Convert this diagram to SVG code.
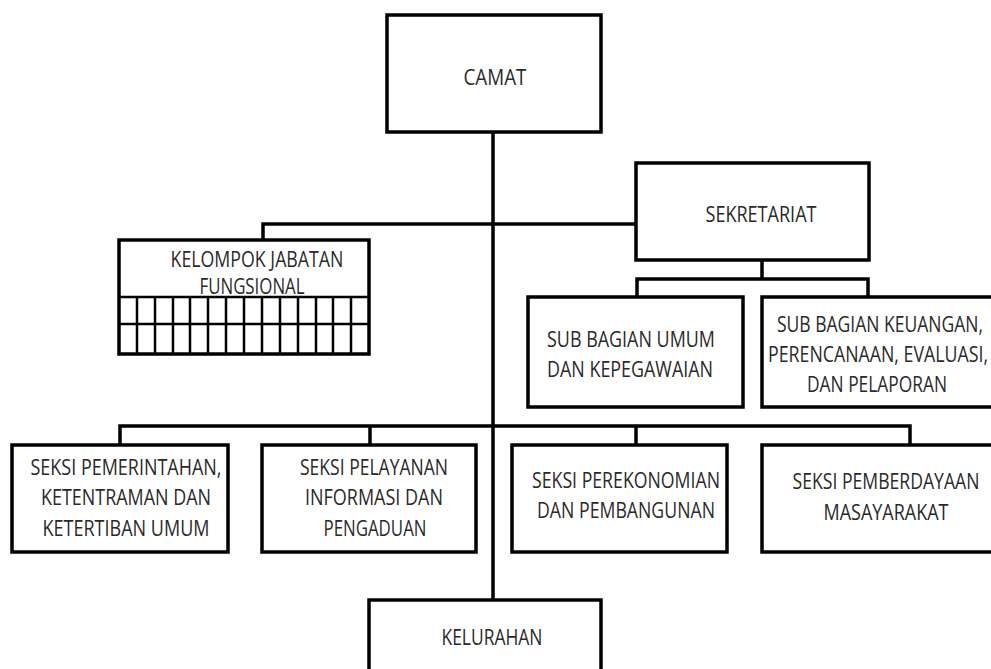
<svg xmlns="http://www.w3.org/2000/svg" width="991" height="669" viewBox="0 0 991 669">
<style>
.box{fill:#fff;stroke:#000;stroke-width:3.5}
.ln{fill:none;stroke:#000;stroke-width:3.5}
.gl{fill:none;stroke:#000;stroke-width:2.5}
text{font-family:"Open Sans","Liberation Sans",sans-serif;font-size:21px;fill:#2a2a2a;text-anchor:middle}
</style>
<rect width="991" height="669" fill="#fff"/>
<g id="connectors">
<path class="ln" d="M493 132V600"/>
<path class="ln" d="M636 224H263V240"/>
<path class="ln" d="M762 260V279M637 297V279H868V297"/>
<path class="ln" d="M120 445V426H910V445M370 426V445M636 426V445"/>
</g>
<g id="camat">
<rect class="box" x="387" y="15" width="214" height="117"/>
<text x="495" y="85" textLength="63" lengthAdjust="spacingAndGlyphs">CAMAT</text>
</g>
<g id="sekretariat">
<rect class="box" x="636" y="163" width="233" height="97"/>
<text x="761" y="222" textLength="111" lengthAdjust="spacingAndGlyphs">SEKRETARIAT</text>
</g>
<g id="kelompok">
<rect class="box" x="119" y="240" width="250" height="114"/>
<path class="gl" d="M119 297H369M119 324H369M137 297V354M155 297V354M173 297V354M190 297V354M208 297V354M226 297V354M244 297V354M262 297V354M280 297V354M298 297V354M316 297V354M333 297V354M351 297V354"/>
<text x="257" y="267" textLength="173" lengthAdjust="spacingAndGlyphs">KELOMPOK JABATAN</text>
<text x="252" y="294" textLength="105" lengthAdjust="spacingAndGlyphs">FUNGSIONAL</text>
</g>
<g id="subumum">
<rect class="box" x="528" y="297" width="215" height="110"/>
<text x="631" y="347" textLength="168" lengthAdjust="spacingAndGlyphs">SUB BAGIAN UMUM</text>
<text x="630" y="377" textLength="166" lengthAdjust="spacingAndGlyphs">DAN KEPEGAWAIAN</text>
</g>
<g id="subkeuangan">
<rect class="box" x="762" y="297" width="232" height="110"/>
<text x="880" y="332" textLength="206" lengthAdjust="spacingAndGlyphs">SUB BAGIAN KEUANGAN,</text>
<text x="878" y="362" textLength="220" lengthAdjust="spacingAndGlyphs">PERENCANAAN, EVALUASI,</text>
<text x="877" y="392" textLength="140" lengthAdjust="spacingAndGlyphs">DAN PELAPORAN</text>
</g>
<g id="pemerintahan">
<rect class="box" x="12" y="445" width="216" height="107"/>
<text x="126" y="475" textLength="191" lengthAdjust="spacingAndGlyphs">SEKSI PEMERINTAHAN,</text>
<text x="126" y="505" textLength="170" lengthAdjust="spacingAndGlyphs">KETENTRAMAN DAN</text>
<text x="126" y="536" textLength="167" lengthAdjust="spacingAndGlyphs">KETERTIBAN UMUM</text>
</g>
<g id="pelayanan">
<rect class="box" x="262" y="445" width="214" height="107"/>
<text x="374" y="475" textLength="148" lengthAdjust="spacingAndGlyphs">SEKSI PELAYANAN</text>
<text x="374" y="505" textLength="138" lengthAdjust="spacingAndGlyphs">INFORMASI DAN</text>
<text x="375" y="536" textLength="103" lengthAdjust="spacingAndGlyphs">PENGADUAN</text>
</g>
<g id="perekonomian">
<rect class="box" x="512" y="445" width="215" height="107"/>
<text x="626" y="488" textLength="188" lengthAdjust="spacingAndGlyphs">SEKSI PEREKONOMIAN</text>
<text x="626" y="518" textLength="178" lengthAdjust="spacingAndGlyphs">DAN PEMBANGUNAN</text>
</g>
<g id="pemberdayaan">
<rect class="box" x="762" y="445" width="232" height="107"/>
<text x="886" y="489" textLength="187" lengthAdjust="spacingAndGlyphs">SEKSI PEMBERDAYAAN</text>
<text x="886" y="520" textLength="125" lengthAdjust="spacingAndGlyphs">MASAYARAKAT</text>
</g>
<g id="kelurahan">
<rect class="box" x="369" y="600" width="232" height="80"/>
<text x="492" y="645" textLength="101" lengthAdjust="spacingAndGlyphs">KELURAHAN</text>
</g>
</svg>
